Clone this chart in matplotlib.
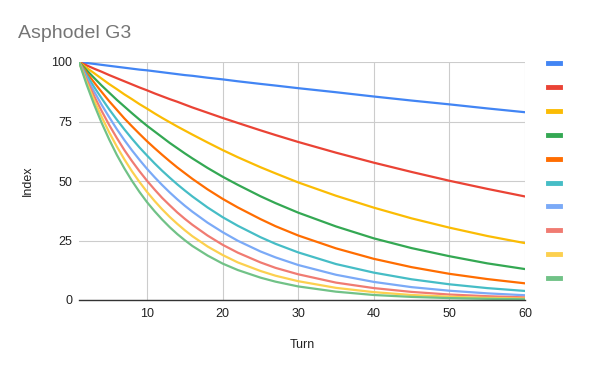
import matplotlib
matplotlib.use('Agg')
import matplotlib.pyplot as plt
from matplotlib.lines import Line2D

plt.rcParams['font.family'] = ['Liberation Sans', 'DejaVu Sans']

# 读图估计的数值 (Turn -> Index)
turns = [1, 2, 3, 4, 5, 6, 7, 8, 9, 10, 11, 12, 13, 14, 15, 16, 18, 20, 22, 25, 27, 30, 35, 40, 45, 50, 55, 60]
s1 = [100, 99.6, 99.2, 98.8, 98.4, 98.0, 97.6, 97.2, 96.8, 96.5, 96.1, 95.7, 95.3, 94.9, 94.5, 94.2, 93.4, 92.7, 91.9, 90.8, 90.1, 89.0, 87.3, 85.5, 83.8, 82.2, 80.5, 78.9]
s2 = [100, 98.6, 97.2, 95.9, 94.5, 93.2, 91.9, 90.6, 89.3, 88.1, 86.8, 85.6, 84.4, 83.3, 82.1, 80.9, 78.7, 76.5, 74.4, 71.3, 69.3, 66.4, 61.9, 57.7, 53.8, 50.1, 46.7, 43.5]
s3 = [100, 97.6, 95.3, 93.0, 90.7, 88.6, 86.4, 84.4, 82.3, 80.4, 78.4, 76.5, 74.7, 72.9, 71.2, 69.5, 66.2, 63.0, 60.0, 55.8, 53.2, 49.4, 43.8, 38.8, 34.3, 30.4, 26.9, 23.9]
s4 = [100, 96.6, 93.3, 90.1, 87.1, 84.1, 81.3, 78.5, 75.8, 73.2, 70.8, 68.4, 66.0, 63.8, 61.6, 59.5, 55.5, 51.8, 48.4, 43.6, 40.7, 36.7, 30.9, 25.9, 21.8, 18.4, 15.4, 13.0]
s5 = [100, 95.6, 91.4, 87.4, 83.5, 79.9, 76.3, 73.0, 69.8, 66.7, 63.8, 61.0, 58.3, 55.7, 53.3, 50.9, 46.5, 42.5, 38.9, 34.0, 31.0, 27.1, 21.7, 17.3, 13.8, 11.0, 8.8, 7.0]
s6 = [100, 94.6, 89.5, 84.7, 80.1, 75.8, 71.7, 67.8, 64.1, 60.7, 57.4, 54.3, 51.4, 48.6, 46.0, 43.5, 38.9, 34.8, 31.2, 26.4, 23.6, 20.0, 15.1, 11.5, 8.7, 6.6, 5.0, 3.8]
s7 = [100, 93.6, 87.6, 82.0, 76.8, 71.8, 67.2, 62.9, 58.9, 55.1, 51.6, 48.3, 45.2, 42.3, 39.6, 37.1, 32.5, 28.5, 24.9, 20.4, 17.9, 14.7, 10.6, 7.6, 5.4, 3.9, 2.8, 2.0]
s8 = [100, 92.6, 85.7, 79.4, 73.5, 68.1, 63.0, 58.4, 54.1, 50.1, 46.4, 42.9, 39.8, 36.8, 34.1, 31.6, 27.1, 23.2, 19.9, 15.8, 13.5, 10.8, 7.3, 5.0, 3.4, 2.3, 1.6, 1.1]
s9 = [100, 91.6, 83.9, 76.9, 70.4, 64.5, 59.1, 54.1, 49.6, 45.4, 41.6, 38.1, 34.9, 32.0, 29.3, 26.8, 22.5, 18.9, 15.8, 12.2, 10.2, 7.9, 5.1, 3.3, 2.1, 1.4, 0.9, 0.6]
s10 = [100, 90.6, 82.1, 74.4, 67.4, 61.0, 55.3, 50.1, 45.4, 41.1, 37.3, 33.8, 30.6, 27.7, 25.1, 22.7, 18.7, 15.3, 12.6, 9.4, 7.7, 5.7, 3.5, 2.1, 1.3, 0.8, 0.5, 0.3]
series = [s1, s2, s3, s4, s5, s6, s7, s8, s9, s10]

colors = ['#4285F4', '#EA4335', '#FBBC04', '#34A853', '#FF6D01',
          '#46BDC6', '#7BAAF7', '#F07B72', '#FCD04F', '#71C287']

fig = plt.figure(figsize=(6, 3.71), dpi=100, facecolor='white')
ax = fig.add_axes([79/600, 1-300/371, (525-79)/600, (300-62)/371])

for s, c in zip(series, colors):
    ax.plot(turns, s, color=c, lw=1.6, solid_capstyle='round', solid_joinstyle='round')

ax.set_xlim(1, 60); ax.set_ylim(0, 100)
ax.set_xticks([10, 20, 30, 40, 50, 60])
ax.set_yticks([0, 25, 50, 75, 100])
ax.grid(True, color='#cccccc', lw=0.8)
ax.set_axisbelow(True)
for k in ['top', 'right', 'left']:
    ax.spines[k].set_visible(False)
ax.spines['bottom'].set_color('#333333'); ax.spines['bottom'].set_linewidth(1.0)
ax.tick_params(axis='x', length=0, labelsize=9, colors='#222222', pad=6)
ax.tick_params(axis='y', length=0, labelsize=9, colors='#222222', pad=5)

fig.text(302/600, 1-345/371, 'Turn', fontsize=9, color='#222222', ha='center', va='center')
fig.text(28/600, 1-181/371, 'Index', fontsize=9, color='#222222', ha='center', va='center', rotation=90)
fig.text(18/600, 1-33/371, 'Asphodel G3', fontsize=14, color='#757575', va='center', ha='left')

handles = [Line2D([], [], color=c, lw=3.5) for c in colors]
fig.legend(handles, [''] * len(colors), loc='upper left',
           bbox_to_anchor=(538/600, 1-49/371), frameon=False,
           handlelength=1.1, labelspacing=1.25, fontsize=8, handletextpad=0)

fig.savefig('out.png', dpi=100, facecolor='white')
